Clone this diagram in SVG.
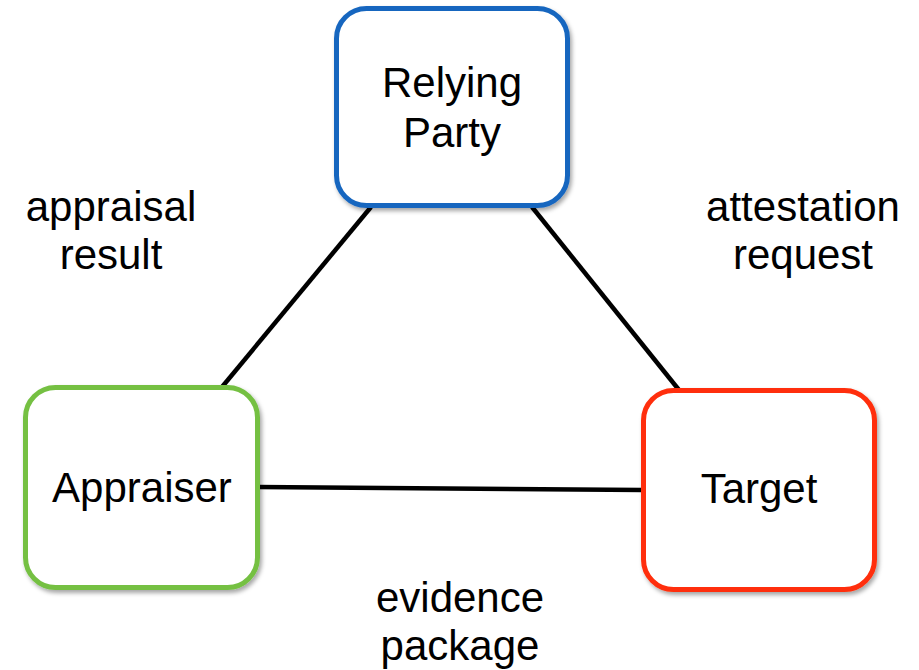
<svg xmlns="http://www.w3.org/2000/svg" width="919" height="670" viewBox="0 0 919 670">
  <defs>
    <filter id="shadow" x="-10%" y="-10%" width="130%" height="130%">
      <feDropShadow dx="2" dy="3" stdDeviation="2" flood-color="#000" flood-opacity="0.35"/>
    </filter>
  </defs>
  <style>
    .box { fill: #ffffff; stroke-width: 5; filter: url(#shadow); }
    .txt { font-family: "Liberation Sans", Arial, sans-serif; font-size: 42px; fill: #000; text-anchor: middle; }
    .edge { stroke: #000; stroke-width: 4.5; fill: none; }
  </style>
  <rect width="919" height="670" fill="#ffffff"/>
  <g id="connectors">
    <line class="edge" x1="371" y1="207" x2="222" y2="387"/>
    <line class="edge" x1="532" y1="207" x2="679" y2="390"/>
    <line class="edge" x1="258" y1="487" x2="643" y2="490"/>
  </g>
  <g id="relying-party">
    <rect class="box" x="336.5" y="8.5" width="231" height="197" rx="30" ry="30" stroke="#1766BF"/>
    <text class="txt" x="452" y="97">Relying</text>
    <text class="txt" x="452" y="147">Party</text>
  </g>
  <g id="appraiser">
    <rect class="box" x="25.5" y="387.5" width="232" height="200" rx="30" ry="30" stroke="#74C043"/>
    <text class="txt" x="142" y="502">Appraiser</text>
  </g>
  <g id="target">
    <rect class="box" x="643.5" y="390.5" width="231" height="199" rx="30" ry="30" stroke="#FF2D08"/>
    <text class="txt" x="759" y="503">Target</text>
  </g>
  <g id="labels">
    <text class="txt" x="111" y="221">appraisal</text>
    <text class="txt" x="111" y="269">result</text>
    <text class="txt" x="803" y="221">attestation</text>
    <text class="txt" x="803" y="269">request</text>
    <text class="txt" x="460" y="612">evidence</text>
    <text class="txt" x="460" y="660">package</text>
  </g>
</svg>
